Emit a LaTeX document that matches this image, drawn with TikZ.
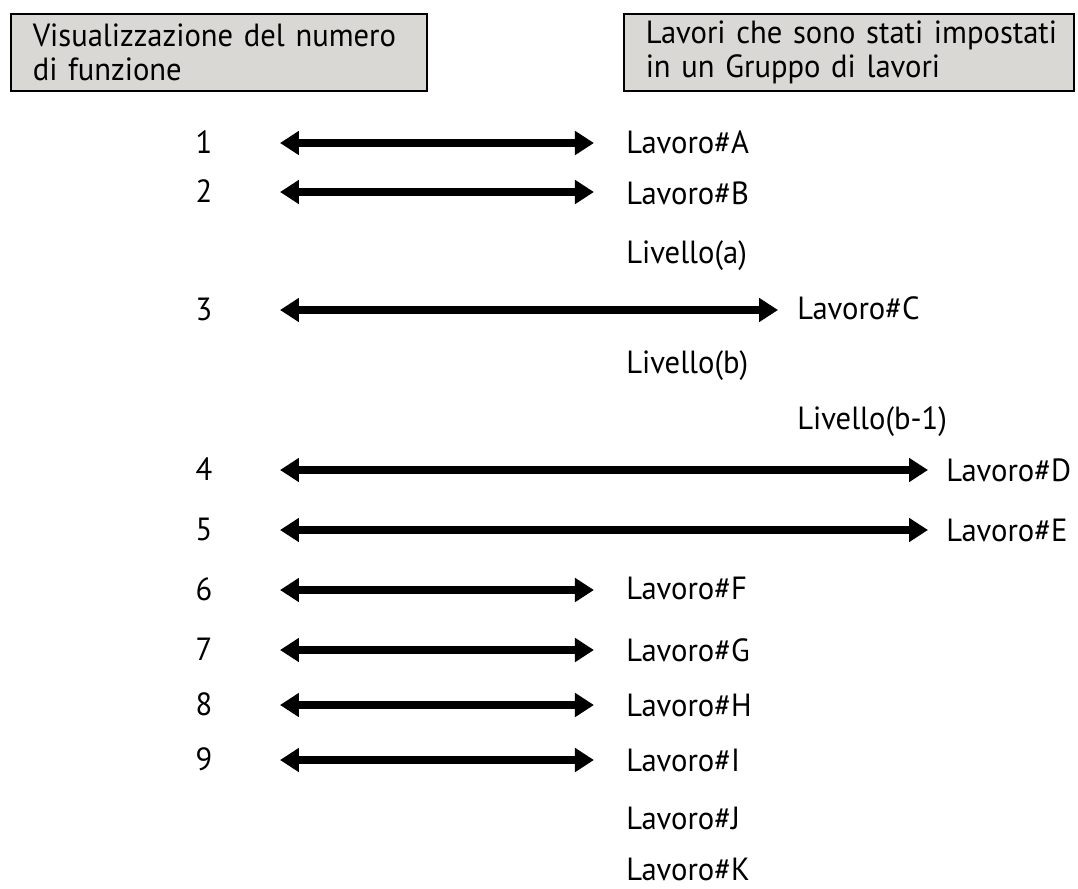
\documentclass[tikz,border=0pt]{standalone}
\usepackage{fontspec}
\setmainfont{PT Sans}[FakeStretch=0.955]
\usetikzlibrary{arrows.meta}
\definecolor{hdrgray}{RGB}{217,216,212}
\begin{document}
\begin{tikzpicture}[x=0.025cm, y=-0.025cm, font=\fontsize{22.8}{24.2}\selectfont,
  hdr/.style={draw, line width=1.1pt, fill=hdrgray, anchor=north west, text width=9.3cm,
    minimum height=1.925cm, inner xsep=0.55cm, inner ysep=0pt, align=left},
  lbl/.style={anchor=base west, inner sep=0pt},
  num/.style={anchor=base, inner sep=0pt},
  pair/.style={line width=5pt, {Triangle[length=13.5pt,width=16.4pt]}-{Triangle[length=13.5pt,width=16.4pt]}}]
\useasboundingbox (0,0) rectangle (1078,888);
\node[hdr] (hfun) at (10,13) {\mbox{Visualizzazione del numero}\\di funzione};
\node[hdr, text width=10.15cm] (hjob) at (623,13) {\mbox{Lavori che sono stati impostati}\\in un Gruppo di lavori};
\foreach \nm/\x/\y/\txt in {
    lA/626/153/{Lavoro\#A},
    lB/626/204/{Lavoro\#B},
    la/626/263/{Livello(a)},
    lC/797/319/{Lavoro\#C},
    lb/626/373/{Livello(b)},
    lbb/797/429/{Livello(b-1)},
    lD/946/481/{Lavoro\#D},
    lE/946/541/{Lavoro\#E},
    lF/626/599/{Lavoro\#F},
    lG/626/661/{Lavoro\#G},
    lH/626/716/{Lavoro\#H},
    lI/626/771/{Lavoro\#I},
    lJ/626/829/{Lavoro\#J},
    lK/626/880/{Lavoro\#K}}{
  \node[lbl] (\nm) at (\x,\y) {\txt};
}
\foreach \i/\y/\lab/\gap in {
    1/143/lA/22.8pt, 2/192/lB/22.8pt, 3/310/lC/13.5pt,
    4/470/lD/12.8pt, 5/530/lE/12.8pt, 6/590/lF/22.8pt,
    7/650/lG/22.8pt, 8/705/lH/22.8pt, 9/760/lI/22.8pt}{
  \node[num] (n\i) at (204,\y+10.5) {\i};
  \coordinate (s\i) at (280,\y);
  \draw[pair, shorten >=\gap] (s\i) -- (s\i -| \lab.west);
}
\end{tikzpicture}
\end{document}
